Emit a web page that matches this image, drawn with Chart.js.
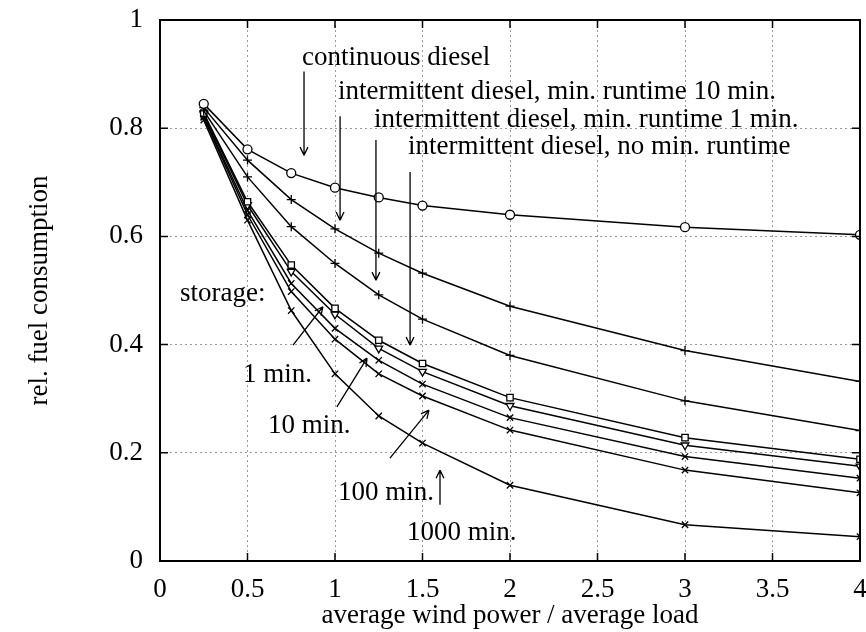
<!DOCTYPE html>
<html>
<head>
<meta charset="utf-8">
<script src="https://cdn.jsdelivr.net/npm/chart.js@4.4.1/dist/chart.umd.min.js"></script>
<style>
  html, body { margin: 0; padding: 0; background: #fff; }
  #wrap { width: 866px; height: 632px; }
</style>
</head>
<body>
<div id="wrap"><canvas id="chart"></canvas></div>
<script>
// average wind power / average load
const windRatio = [0.25, 0.5, 0.75, 1, 1.25, 1.5, 2, 3, 4]

// rel. fuel consumption
const continuousDiesel = [0.845, 0.761, 0.717, 0.690, 0.672, 0.657, 0.640, 0.617, 0.603]
const runtime10 = [0.838, 0.741, 0.668, 0.614, 0.569, 0.532, 0.471, 0.389, 0.332]
const runtime1 = [0.832, 0.710, 0.618, 0.550, 0.492, 0.447, 0.380, 0.296, 0.241]
const noRuntime = [0.828, 0.664, 0.547, 0.467, 0.408, 0.365, 0.302, 0.228, 0.188]
const storage1 = [0.826, 0.658, 0.535, 0.456, 0.393, 0.350, 0.287, 0.214, 0.175]
const storage10 = [0.822, 0.648, 0.513, 0.430, 0.371, 0.327, 0.265, 0.193, 0.153]
const storage100 = [0.820, 0.640, 0.498, 0.410, 0.346, 0.305, 0.242, 0.168, 0.126]
const storage1000 = [0.815, 0.630, 0.463, 0.346, 0.268, 0.218, 0.140, 0.067, 0.045]

const xTicks = [0, 0.5, 1, 1.5, 2, 2.5, 3, 3.5, 4]
const yTicks = [0, 0.2, 0.4, 0.6, 0.8, 1]

// labels in the plot, placed in data units
const notes = [
  { text: 'continuous diesel', x: 0.811, y: 0.917 },
  { text: 'intermittent diesel, min. runtime 10 min.', x: 1.017, y: 0.854 },
  { text: 'intermittent diesel, min. runtime 1 min.', x: 1.223, y: 0.802 },
  { text: 'intermittent diesel, no min. runtime', x: 1.417, y: 0.752 },
  { text: 'storage:', x: 0.114, y: 0.481 },
  { text: '1 min.', x: 0.474, y: 0.331 },
  { text: '10 min.', x: 0.617, y: 0.237 },
  { text: '100 min.', x: 1.017, y: 0.113 },
  { text: '1000 min.', x: 1.411, y: 0.039 }
]
const arrows = [
  [0.823, 0.905, 0.823, 0.750],
  [1.029, 0.822, 1.029, 0.630],
  [1.234, 0.778, 1.234, 0.519],
  [1.429, 0.719, 1.429, 0.399],
  [0.760, 0.399, 0.931, 0.470],
  [1.011, 0.285, 1.183, 0.375],
  [1.314, 0.190, 1.537, 0.279],
  [1.600, 0.104, 1.600, 0.168]
]

const FONT = '"Liberation Serif", "DejaVu Serif", serif'

function series(values, style, extra) {
  return Object.assign({
    data: values.map((v, i) => ({ x: windRatio[i], y: v })),
    borderColor: '#000',
    borderWidth: 1.5,
    pointStyle: style,
    pointRadius: 4.5,
    pointBorderWidth: 1.3,
    pointBorderColor: '#000',
    pointBackgroundColor: '#fff',
    tension: 0,
    fill: false
  }, extra || {})
}

// scanned-paper look: frame, inward ticks, arrows and text notes
const paperPlugin = {
  id: 'paper',
  afterDatasetsDraw(chart) {
    const { ctx, chartArea: a, scales: { x, y } } = chart
    ctx.save()
    ctx.strokeStyle = '#000'
    ctx.lineWidth = 1.5
    ctx.beginPath()
    xTicks.forEach(v => {
      const px = x.getPixelForValue(v)
      ctx.moveTo(px, a.bottom); ctx.lineTo(px, a.bottom - 8)
      ctx.moveTo(px, a.top); ctx.lineTo(px, a.top + 8)
    })
    yTicks.forEach(v => {
      const py = y.getPixelForValue(v)
      ctx.moveTo(a.left, py); ctx.lineTo(a.left + 8, py)
      ctx.moveTo(a.right, py); ctx.lineTo(a.right - 8, py)
    })
    ctx.stroke()
    ctx.lineWidth = 2
    ctx.strokeRect(a.left, a.top, a.right - a.left, a.bottom - a.top)

    ctx.lineWidth = 1.3
    arrows.forEach(([x1, y1, x2, y2]) => {
      const p1 = [x.getPixelForValue(x1), y.getPixelForValue(y1)]
      const p2 = [x.getPixelForValue(x2), y.getPixelForValue(y2)]
      const ang = Math.atan2(p2[1] - p1[1], p2[0] - p1[0])
      ctx.beginPath()
      ctx.moveTo(p1[0], p1[1]); ctx.lineTo(p2[0], p2[1])
      ;[-0.45, 0.45].forEach(d => {
        ctx.moveTo(p2[0], p2[1])
        ctx.lineTo(p2[0] - 9 * Math.cos(ang + d), p2[1] - 9 * Math.sin(ang + d))
      })
      ctx.stroke()
    })

    ctx.fillStyle = '#000'
    ctx.font = '27px ' + FONT
    ctx.textAlign = 'left'
    ctx.textBaseline = 'alphabetic'
    notes.forEach(n => {
      ctx.fillText(n.text, x.getPixelForValue(n.x), y.getPixelForValue(n.y))
    })
    ctx.restore()
  }
}

new Chart(document.getElementById('chart'), {
  type: 'line',
  data: {
    datasets: [
      series(continuousDiesel, 'circle'),
      series(runtime10, 'cross'),
      series(runtime1, 'cross'),
      series(noRuntime, 'rect'),
      series(storage1, 'triangle', { pointRotation: 180 }),
      series(storage10, 'crossRot'),
      series(storage100, 'crossRot'),
      series(storage1000, 'crossRot')
    ]
  },
  options: {
    responsive: true,
    maintainAspectRatio: false,
    animation: false,
    layout: { padding: { left: 0, right: 6, top: 20, bottom: 0 } },
    plugins: {
      legend: { display: false },
      tooltip: { enabled: false }
    },
    scales: {
      x: {
        type: 'linear',
        min: 0,
        max: 4,
        afterBuildTicks: s => { s.ticks = xTicks.map(v => ({ value: v })) },
        afterFit: s => { s.height = 71; s.paddingLeft = 0; s.paddingRight = 0 },
        grid: { color: '#9a9a9a', lineWidth: 1, drawTicks: false },
        border: { display: false, dash: [2, 3] },
        ticks: {
          color: '#000', padding: 13, maxRotation: 0,
          font: { family: FONT, size: 27 },
          callback: v => String(v)
        },
        title: {
          display: true,
          text: 'average wind power / average load',
          color: '#000',
          font: { family: FONT, size: 27 },
          padding: { top: 0, bottom: 0 }
        }
      },
      y: {
        type: 'linear',
        min: 0,
        max: 1,
        afterBuildTicks: s => { s.ticks = yTicks.map(v => ({ value: v })) },
        afterFit: s => { s.width = 160; s.paddingTop = 0; s.paddingBottom = 0 },
        grid: { color: '#9a9a9a', lineWidth: 1, drawTicks: false },
        border: { display: false, dash: [2, 3] },
        ticks: {
          color: '#000', padding: 17,
          font: { family: FONT, size: 27 },
          callback: v => String(v)
        },
        title: {
          display: true,
          text: 'rel. fuel consumption',
          color: '#000',
          font: { family: FONT, size: 27 },
          padding: { top: 24, bottom: 0 }
        }
      }
    }
  },
  plugins: [paperPlugin]
})
</script>
</body>
</html>
